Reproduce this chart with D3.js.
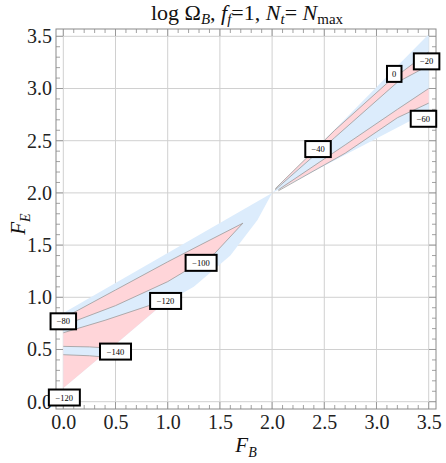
<!DOCTYPE html>
<html><head><meta charset="utf-8">
<script src="https://cdn.jsdelivr.net/npm/d3@7"></script>
<style>body{margin:0;background:#fff}</style>
</head><body>
<svg id="c" width="446" height="463"></svg>
<script>
const xTicks=[0,0.5,1,1.5,2,2.5,3,3.5];
const yTicks=[0,0.5,1,1.5,2,2.5,3,3.5];
// outer (blue) regions of the contour plot
const outerLow=[[0,0.85],[2,2],[1.86,1.74],[1.6,1.4],[1.25,1.1],[0.95,0.93],[0.5,0.55],[0,0.13]];
const outerHigh=[[2,2],[3.5,3.52],[3.5,2.78],[3.38,2.72]];
// pink bands
const pinkBands=[
 [[0,0.80],[0.5,1.07],[1.0,1.34],[1.31,1.50],[1.72,1.71],[1.45,1.42],[1.0,1.15],[0.5,0.92],[0,0.73]],
 [[0,0.66],[0.4,0.78],[0.85,0.93],[0.97,0.95],[0.5,0.55],[0,0.13]],
 [[2.03,2.04],[2.6,2.6],[3.1,3.05],[3.5,3.35],[3.5,3.22],[3.2,3.06],[2.6,2.53]],
 [[2.06,2.03],[2.7,2.46],[3.2,2.8],[3.5,3.0],[3.5,2.86],[3.2,2.72],[2.7,2.38]]
];
// closed minimum (blue) near F_E = 0.5
const minRegion=[[0,0.53],[0.25,0.525],[0.48,0.51],[0.48,0.42],[0.25,0.44],[0,0.45]];
const contourLines=[
 [[0,0.80],[0.5,1.07],[1.0,1.34],[1.31,1.50],[1.72,1.71]],
 [[0,0.73],[0.5,0.92],[1.0,1.15],[1.45,1.42],[1.72,1.71]],
 [[0,0.66],[0.4,0.78],[0.85,0.93]],
 [[0,0.53],[0.25,0.525],[0.48,0.51]],[[0,0.45],[0.25,0.44],[0.48,0.42]],
 [[2.03,2.04],[2.6,2.6],[3.1,3.05],[3.5,3.35]],
 [[2.03,2.03],[2.6,2.53],[3.2,3.06],[3.5,3.22]],
 [[2.06,2.03],[2.7,2.46],[3.2,2.8],[3.5,3.0]],
 [[2.06,2.02],[2.7,2.38],[3.2,2.72],[3.5,2.86]]
];
const labels=[
 {t:"\u221280",x:0,y:0.77},{t:"\u2212100",x:1.32,y:1.33},{t:"\u2212120",x:0.98,y:0.965},
 {t:"\u2212140",x:0.5,y:0.48},{t:"\u2212120",x:0.01,y:0.04},
 {t:"0",x:3.17,y:3.14},{t:"\u221220",x:3.48,y:3.26},{t:"\u221240",x:2.44,y:2.42},{t:"\u221260",x:3.45,y:2.71}
];
const svg=d3.select("#c");
const L=56,R=436,T=29,B=409;
const x=d3.scaleLinear().domain([-0.07,3.57]).range([L,R]);
const y=d3.scaleLinear().domain([-0.07,3.57]).range([B,T]);
const g=svg.append("g");
g.selectAll(".gx").data(xTicks).join("line").attr("x1",d=>x(d)).attr("x2",d=>x(d)).attr("y1",T).attr("y2",B).attr("stroke","#d0d0d0").attr("stroke-width",1);
g.selectAll(".gy").data(yTicks).join("line").attr("y1",d=>y(d)).attr("y2",d=>y(d)).attr("x1",L).attr("x2",R).attr("stroke","#d0d0d0").attr("stroke-width",1);
const line=d3.line().x(d=>x(d[0])).y(d=>y(d[1]));
const blue="#dcecfc", pink="#ffd5d9";
g.selectAll(".ob").data([outerLow,outerHigh]).join("path").attr("d",d=>line(d)+"Z").attr("fill",blue);
g.selectAll(".pb").data(pinkBands).join("path").attr("d",d=>line(d)+"Z").attr("fill",pink);
g.append("path").attr("d",line(minRegion)+"Z").attr("fill",blue);
g.selectAll(".cl").data(contourLines).join("path").attr("d",line).attr("fill","none").attr("stroke","#9a9a9a").attr("stroke-width",0.8);
// frame + ticks
const minor=d3.range(0,3.56,0.1);
const fA=svg.append("g");
["b","t","l","r"].forEach(o=>{
  minor.forEach(v=>{
    const major=Math.abs(v*2-Math.round(v*2))<1e-6;
    const len=major?7:4;
    const ln=fA.append("line");
    if(o==="b") ln.attr("x1",x(v)).attr("x2",x(v)).attr("y1",B).attr("y2",B-len);
    if(o==="t") ln.attr("x1",x(v)).attr("x2",x(v)).attr("y1",T).attr("y2",T+len);
    if(o==="l") ln.attr("y1",y(v)).attr("y2",y(v)).attr("x1",L).attr("x2",L+len);
    if(o==="r") ln.attr("y1",y(v)).attr("y2",y(v)).attr("x1",R).attr("x2",R-len);
  });
});
fA.selectAll("line").attr("stroke","#8a8a8a").attr("stroke-width",0.8);
fA.append("rect").attr("x",L).attr("y",T).attr("width",R-L).attr("height",B-T).attr("fill","none").attr("stroke","#8a8a8a").attr("stroke-width",1);
const xa=svg.append("g").attr("transform",`translate(0,${B})`).call(d3.axisBottom(x).tickValues(xTicks).tickSize(0).tickPadding(6).tickFormat(d3.format(".1f")));
xa.select(".domain").remove();
xa.selectAll("text").attr("font-family","Liberation Serif, serif").attr("font-size",20).attr("fill","#222");
const ya=svg.append("g").attr("transform",`translate(${L},0)`).call(d3.axisLeft(y).tickValues(yTicks).tickSize(0).tickPadding(4).tickFormat(d3.format(".1f")));
ya.select(".domain").remove();
ya.selectAll("text").attr("font-family","Liberation Serif, serif").attr("font-size",20).attr("fill","#222");
// contour labels
const lg=svg.append("g");
labels.forEach(l=>{
  const w=l.t.length*5.5+9;
  lg.append("rect").attr("x",x(l.x)-w/2).attr("y",y(l.y)-8).attr("width",w).attr("height",16).attr("fill","#fff").attr("stroke","#000").attr("stroke-width",2);
  lg.append("text").attr("x",x(l.x)).attr("y",y(l.y)+3).attr("text-anchor","middle").attr("font-family","Liberation Serif, serif").attr("font-size",8.5).text(l.t);
});
// titles
svg.append("text").attr("x",247).attr("y",20).attr("text-anchor","middle").attr("font-family","Liberation Serif, serif").attr("font-size",22).attr("fill","#111")
 .html('log Ω<tspan font-style="italic" font-size="15" dy="4">B</tspan><tspan dy="-4">, </tspan><tspan font-style="italic">f</tspan><tspan font-style="italic" font-size="15" dy="4">f</tspan><tspan dy="-4">=1, </tspan><tspan font-style="italic">N</tspan><tspan font-style="italic" font-size="15" dy="4">t</tspan><tspan dy="-4">= </tspan><tspan font-style="italic">N</tspan><tspan font-size="15" dy="4">max</tspan>');
svg.append("text").attr("x",246).attr("y",452).attr("text-anchor","middle").attr("font-family","Liberation Serif, serif").attr("font-size",21).attr("fill","#111")
 .html('<tspan font-style="italic">F</tspan><tspan font-style="italic" font-size="14" dy="5">B</tspan>');
svg.append("text").attr("transform","translate(25,224) rotate(-90)").attr("text-anchor","middle").attr("font-family","Liberation Serif, serif").attr("font-size",21).attr("fill","#111")
 .html('<tspan font-style="italic">F</tspan><tspan font-style="italic" font-size="14" dy="5">E</tspan>');
</script>
</body></html>
